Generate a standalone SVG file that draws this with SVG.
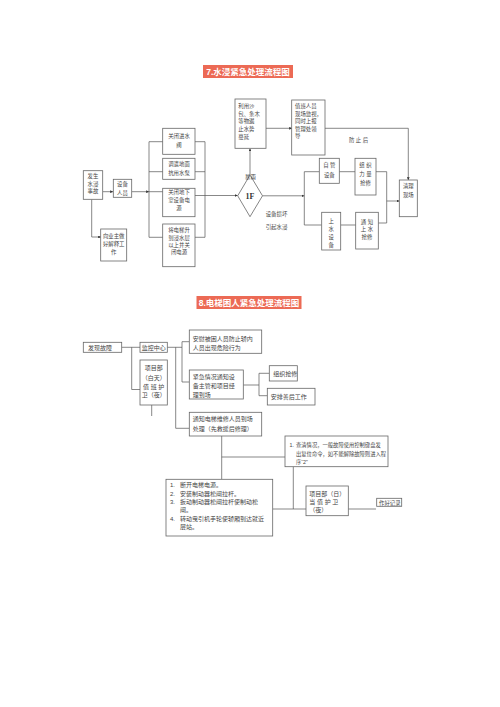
<svg xmlns="http://www.w3.org/2000/svg" width="500" height="707" viewBox="0 0 500 707">
<defs>
<marker id="ah" viewBox="0 0 6 6" refX="6" refY="3" markerWidth="4" markerHeight="4" orient="auto"><path d="M0,0L6,3L0,6z" fill="#333"/></marker>
<style>
.bx{fill:#fff;stroke:#666;stroke-width:0.8}
.ln{fill:none;stroke:#555;stroke-width:0.7}
.ar{fill:none;stroke:#555;stroke-width:0.7;marker-end:url(#ah)}
.t{font-family:"Liberation Sans","Noto Sans CJK SC",sans-serif;font-size:5.4px;fill:#444}
.b{font-family:"Liberation Sans","Noto Sans CJK SC",sans-serif;font-size:6px;fill:#444}
.s{font-size:5.3px}
.c{text-anchor:middle}
.title{font-family:"Liberation Sans","Noto Sans CJK SC",sans-serif;font-size:8.5px;font-weight:bold;fill:#fff;text-anchor:middle}
</style>
</defs>
<rect width="500" height="707" fill="#fff"/>

<g id="title7"><rect x="203" y="65" width="90" height="13" fill="#ec6a55"/><text class="title" x="248" y="74.5">7.水浸紧急处理流程图</text></g>
<g id="title8"><rect x="196.5" y="296" width="105" height="13" fill="#ec6a55"/><text class="title" x="249" y="305.5">8.电梯困人紧急处理流程图</text></g>

<g id="connectors">
<path class="ar" d="M103,191.7H113"/>
<path class="ar" d="M91.7,199.5V237H101"/>
<path class="ar" d="M132,191.7H149"/>
<path class="ln" d="M149,141.7V237.3M149,141.7H163M149,171.7H163M149,191.7H163M149,237.3H163"/>
<path class="ln" d="M195,141.7H205M195,171.7H205M195,237.3H205M205,141.7V237.3"/>
<path class="ar" d="M195,195.5H237.7"/>
<path class="ar" d="M250,175V148.5"/>
<path class="ar" d="M266,128.3H292"/>
<path class="ln" d="M325,128.3H408.3"/>
<path class="ar" d="M408.3,128.3V180"/>
<path class="ar" d="M262.3,195.8H304.3"/>
<path class="ln" d="M304.3,171.7V225M304.3,171.7H319.3M304.3,225H321.7"/>
<path class="ln" d="M339.3,171.7H355M340.7,225H356"/>
<path class="ln" d="M376,171.7H386.7V223H378.3"/>
<path class="ar" d="M386.7,201H399.3"/>

<path class="ln" d="M121.7,347.3H140M131.7,347.3V389.5H140"/>
<path class="ln" d="M167.3,347.3H182M175.7,347.3V428.3H189.3M182,341.7V382M182,341.7H189.3M182,382H189.3"/>
<path class="ln" d="M151.7,405V416"/>
<path class="ln" d="M243.3,385H259M259,373.3V395.7M259,373.3H269.3M259,395.7H267.3"/>
<path class="ln" d="M221.7,436V479.3M221.7,457H285"/>
<path class="ln" d="M293.3,466.7V509M272.7,509H306M348.3,509H376"/>
</g>

<g id="n-fasheng"><rect class="bx" x="83.3" y="170.7" width="19.4" height="28.6"/><text class="t c" x="93" y="178">发生</text><text class="t c" x="93" y="185.5">水浸</text><text class="t c" x="93" y="193">事故</text></g>
<g id="n-shebei"><rect class="bx" x="113.3" y="179.3" width="18.4" height="18"/><text class="t c" x="122.5" y="186">设备</text><text class="t c" x="122.5" y="194.5">人员</text></g>
<g id="n-guanbi"><rect class="bx" x="162.7" y="128.3" width="32.3" height="26"/><text class="t c" x="179" y="138">关闭进水</text><text class="t c" x="179" y="147">阀</text></g>
<g id="n-diaoqian"><rect class="bx" x="162.7" y="158.3" width="32.3" height="21"/><text class="t c" x="179" y="165.5">调遣地面</text><text class="t c" x="179" y="174.5">抗用水泵</text></g>
<g id="n-dixiashi"><rect class="bx" x="162.7" y="188.3" width="32.3" height="28.4"/><text class="t c" x="179" y="194">关闭地下</text><text class="t c" x="179" y="201.5">室设备电</text><text class="t c" x="179" y="209.5">源</text></g>
<g id="n-dianti"><rect class="bx" x="162.7" y="224" width="32.3" height="42.7"/><text class="t c" x="179" y="232">将电梯升</text><text class="t c" x="179" y="239.5">到浸水层</text><text class="t c" x="179" y="247">以上并关</text><text class="t c" x="179" y="254">闭电源</text></g>
<g id="n-yezhu"><rect class="bx" x="100.7" y="229" width="26" height="32"/><text class="t c" x="113.7" y="238">向业主做</text><text class="t c" x="113.7" y="245.5">好解释工</text><text class="t c" x="113.7" y="254">作</text></g>
<g id="n-1f"><path d="M250,175L262.5,195.8L250,216.7L237.7,195.8z" fill="#fff" stroke="#666" stroke-width="0.8"/><text x="250" y="198.8" text-anchor="middle" font-family="Liberation Serif,serif" font-size="8" font-weight="bold" fill="#333">1F</text></g>
<g id="n-shabao"><rect class="bx" x="235" y="99" width="31" height="49.3"/><text class="t" x="238.3" y="108">利用沙</text><text class="t" x="238.3" y="115.5">包、条木</text><text class="t" x="238.3" y="123">等物遏</text><text class="t" x="238.3" y="130.5">止水势</text><text class="t" x="238.3" y="139">蔓延</text></g>
<g id="n-zhiban"><rect class="bx" x="291.7" y="100" width="33.3" height="55"/><text class="t" x="295" y="108">值班人员</text><text class="t" x="295" y="115.5">现场监视，</text><text class="t" x="295" y="123">同时上报</text><text class="t" x="295" y="130.5">管理处领</text><text class="t" x="295" y="138">导</text></g>
<g id="n-ziguan"><rect class="bx" x="319.3" y="158.3" width="20" height="25"/><text class="t c" x="329.3" y="167">自 管</text><text class="t c" x="329.3" y="177">设备</text></g>
<g id="n-zuzhi"><rect class="bx" x="355" y="158.3" width="21" height="36.7"/><text class="t c" x="365.5" y="167">组  织</text><text class="t c" x="365.5" y="175.5">力  量</text><text class="t c" x="365.5" y="184.5">抢修</text></g>
<g id="n-shangshui"><rect class="bx" x="321.7" y="212.3" width="19" height="37.7"/><text class="t c" x="331.2" y="223">上</text><text class="t c" x="331.2" y="230.5">水</text><text class="t c" x="331.2" y="239">设</text><text class="t c" x="331.2" y="247">备</text></g>
<g id="n-tongzhi"><rect class="bx" x="355.7" y="212.3" width="22.6" height="36.7"/><text class="t c" x="367" y="224">通  知</text><text class="t c" x="367" y="230.5">上  水</text><text class="t c" x="367" y="239">抢修</text></g>
<g id="n-qingli"><rect class="bx" x="399.3" y="180" width="18" height="36.7"/><text class="t c" x="408.3" y="188">清理</text><text class="t c" x="408.3" y="197">现场</text></g>
<g id="labels7">
<text class="t c" x="250.5" y="179">暴雨</text>
<text class="t c" x="358.5" y="142">防 止 后</text>
<text class="t c" x="276.5" y="216">设备损坏</text>
<text class="t c" x="276.5" y="229">引起水浸</text>
</g>

<g id="n-faxian"><rect class="bx" x="83.3" y="342.3" width="38.4" height="10"/><text class="b" x="88" y="349.8">发现故障</text></g>
<g id="n-jiankong"><rect class="bx" x="140" y="342.3" width="27.3" height="10"/><text class="b c" x="153.7" y="349.8">监控中心</text></g>
<g id="n-xiangmu1"><rect class="bx" x="140" y="360" width="27.3" height="45"/><text class="b c" x="153.7" y="370">项目部</text><text class="b c" x="153.7" y="379.5">（白天）</text><text class="b c" x="153.7" y="389">值 班 护</text><text class="b c" x="153.7" y="397">卫（夜）</text></g>
<g id="n-anwei"><rect class="bx" x="189.3" y="330" width="72.4" height="23.3"/><text class="b" x="192.7" y="340.5">安慰被困人员防止轿内</text><text class="b" x="192.7" y="350">人员出现危险行为</text></g>
<g id="n-jinji"><rect class="bx" x="189.3" y="370" width="54" height="29"/><text class="b" x="192.7" y="379">紧急情况通知设</text><text class="b" x="192.7" y="388">备主管和项目经</text><text class="b" x="192.7" y="396.5">理到场</text></g>
<g id="n-qiangxiu"><rect class="bx" x="269.3" y="365.7" width="28" height="15.3"/><text class="b" x="273.3" y="375.5">组织抢修</text></g>
<g id="n-shanhou"><rect class="bx" x="267.3" y="388.3" width="47.7" height="16.7"/><text class="b" x="270.7" y="398.5">安排善后工作</text></g>
<g id="n-weixiu"><rect class="bx" x="189.3" y="412.3" width="72.4" height="23.7"/><text class="b" x="192.7" y="421">通知电梯维修人员到场</text><text class="b" x="192.7" y="430.5">处理（先救援后修理）</text></g>
<g id="n-chaqing"><rect class="bx" x="285" y="436" width="103" height="30.7"/><text class="b s" x="289.5" y="447">1.</text><text class="b s" x="296" y="447">查清情况，一般故障使用控制键盘发</text><text class="b s" x="296" y="456">出复位命令，如不能解除故障则进入程</text><text class="b s" x="296" y="464">序“2”</text></g>
<g id="n-steps"><rect class="bx" x="166" y="479.3" width="106.7" height="56.7"/>
<text class="b" x="170" y="487">1.</text><text class="b" x="180" y="487">断开电梯电源。</text>
<text class="b" x="170" y="495.5">2.</text><text class="b" x="180" y="495.5">安装制动器松闸拉杆。</text>
<text class="b" x="170" y="504">3.</text><text class="b" x="180" y="504">扳动制动器松闸拉杆使制动松</text>
<text class="b" x="180" y="512">闸。</text>
<text class="b" x="170" y="521">4.</text><text class="b" x="180" y="521">转动曳引机手轮使轿厢到达就近</text>
<text class="b" x="180" y="529">层站。</text></g>
<g id="n-xiangmu2"><rect class="bx" x="306" y="486" width="42.3" height="29.7"/><text class="b" x="309.3" y="495.5">项目部（日）</text><text class="b" x="309.3" y="504">当 值 护 卫</text><text class="b" x="309.3" y="512">（夜）</text></g>
<g id="n-jilu"><rect class="bx" x="376.7" y="498.3" width="25" height="8"/><text class="b" x="379" y="504.6" style="font-size:5.4px">作好记录</text></g>
</svg>
